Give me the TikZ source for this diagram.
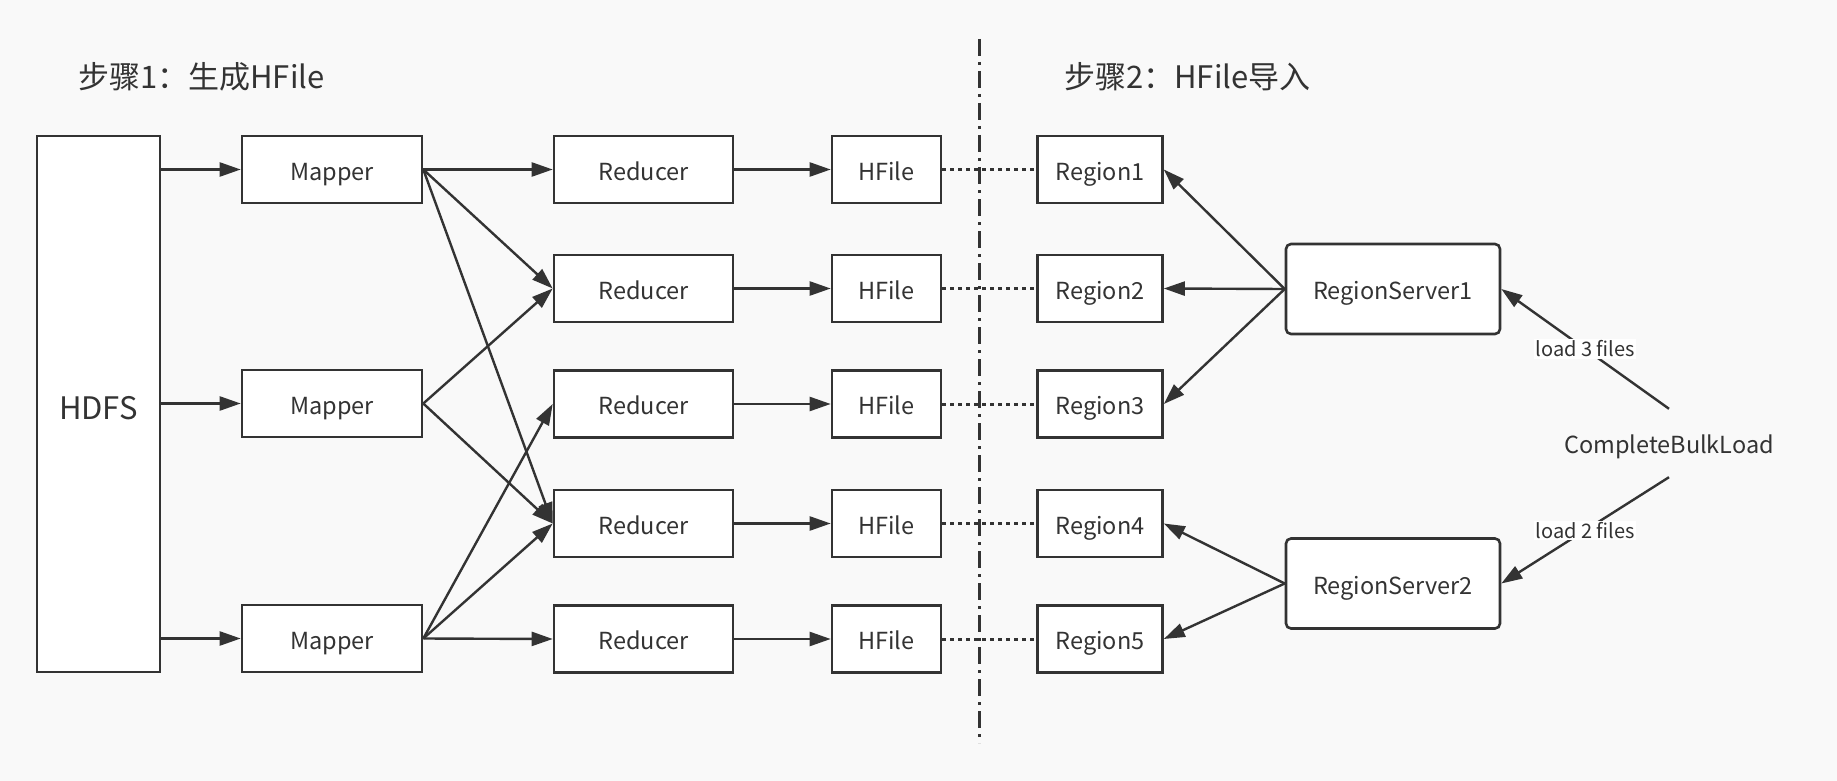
\documentclass[tikz,border=0pt]{standalone}
\usepackage{fontspec}
\setmainfont{Noto Sans CJK SC}
\usetikzlibrary{arrows.meta}
\definecolor{ink}{HTML}{333333}
\definecolor{paper}{HTML}{F9F9F9}
\begin{document}
\begin{tikzpicture}[x=1pt,y=-1pt,
    box/.style={draw=ink,fill=white,line width=2.6pt,inner sep=0pt,text=ink,
      text height=21pt,text depth=0pt,font=\fontsize{23.5}{26}\selectfont},
    title/.style={anchor=west,text=ink,inner sep=0pt,font=\fontsize{31}{34}\selectfont},
    flow/.style={draw=ink,line width=2.4pt,-{Triangle[length=21pt,width=14pt]}},
    link/.style={draw=ink,line width=3pt,dash pattern=on 4pt off 4pt},
    lbl/.style={fill=white,text=ink,inner sep=1.5pt,font=\fontsize{20}{22}\selectfont}]
      \fill[paper] (0,0) rectangle (1837,781);
      \useasboundingbox (0,0) rectangle (1837,781);
      % titles
      \node[title] (t1) at (78,77) {步骤1：生成HFile};
      \node[title] (t2) at (1064,77) {步骤2：HFile导入};
      % step 1
      \node[box,minimum width=123,minimum height=536,text height=30pt,font=\fontsize{31}{34}\selectfont]
        (hdfs) at (98.5,404) {HDFS};
      \node[box,minimum width=180,minimum height=67] (m1) at (332,169.5) {Mapper};
      \node[box,minimum width=180,minimum height=67] (m2) at (332,403.5) {Mapper};
      \node[box,minimum width=180,minimum height=67] (m3) at (332,638.5) {Mapper};
      \node[box,minimum width=179,minimum height=67] (r1) at (643.5,169.5) {Reducer};
      \node[box,minimum width=179,minimum height=67] (r2) at (643.5,288.5) {Reducer};
      \node[box,minimum width=179,minimum height=67] (r3) at (643.5,404) {Reducer};
      \node[box,minimum width=179,minimum height=67] (r4) at (643.5,523.5) {Reducer};
      \node[box,minimum width=179,minimum height=67] (r5) at (643.5,639) {Reducer};
      \node[box,minimum width=109,minimum height=67] (f1) at (886.5,169.5) {HFile};
      \node[box,minimum width=109,minimum height=67] (f2) at (886.5,288.5) {HFile};
      \node[box,minimum width=109,minimum height=67] (f3) at (886.5,404) {HFile};
      \node[box,minimum width=109,minimum height=67] (f4) at (886.5,523.5) {HFile};
      \node[box,minimum width=109,minimum height=67] (f5) at (886.5,639) {HFile};
      % step 2
      \node[box,minimum width=125,minimum height=67] (g1) at (1100,169.5) {Region1};
      \node[box,minimum width=125,minimum height=67] (g2) at (1100,288.5) {Region2};
      \node[box,minimum width=125,minimum height=67] (g3) at (1100,404) {Region3};
      \node[box,minimum width=125,minimum height=67] (g4) at (1100,523.5) {Region4};
      \node[box,minimum width=125,minimum height=67] (g5) at (1100,639) {Region5};
      \node[box,rounded corners=5pt,minimum width=214,minimum height=90] (rs1) at (1393,289) {RegionServer1};
      \node[box,rounded corners=5pt,minimum width=214,minimum height=90] (rs2) at (1393,583.5) {RegionServer2};
      \node[text=ink,inner sep=0pt,minimum height=68,text height=21pt,text depth=0pt,
        font=\fontsize{23.5}{26}\selectfont] (cbl) at (1669,443) {CompleteBulkLoad};
      \coordinate (cut1) at (979.5,39);
      \coordinate (cut2) at (979.5,743);
      \draw[ink,line width=2.5pt,dash pattern=on 17pt off 6pt on 3pt off 6pt] (cut1) -- (cut2);
      \begin{scope}[flow]
        \draw (hdfs.east |- m1) -- (m1);
        \draw (hdfs.east |- m2) -- (m2);
        \draw (hdfs.east |- m3) -- (m3);
        \draw (m1.east) -- (r1.west);
        \draw (m1.east) -- (r2.west);
        \draw (m1.east) -- (r4.west);
        \draw (m2.east) -- (r2.west);
        \draw (m2.east) -- (r4.west);
        \draw (m3.east) -- (r3.west);
        \draw (m3.east) -- (r4.west);
        \draw (m3.east) -- (r5.west);
        \draw (r1) -- (f1);
        \draw (r2) -- (f2);
        \draw (r3) -- (f3);
        \draw (r4) -- (f4);
        \draw (r5) -- (f5);
        \draw (rs1.west) -- (g1.east);
        \draw (rs1.west) -- (g2.east);
        \draw (rs1.west) -- (g3.east);
        \draw (rs2.west) -- (g4.east);
        \draw (rs2.west) -- (g5.east);
        \draw (cbl.north) -- node[lbl] {load 3 files} (rs1.east);
        \draw (cbl.south) -- node[lbl] {load 2 files} (rs2.east);
      \end{scope}
      \begin{scope}[link]
        \draw (f1) -- (g1);
        \draw (f2) -- (g2);
        \draw (f3) -- (g3);
        \draw (f4) -- (g4);
        \draw (f5) -- (g5);
      \end{scope}
\end{tikzpicture}
\end{document}
